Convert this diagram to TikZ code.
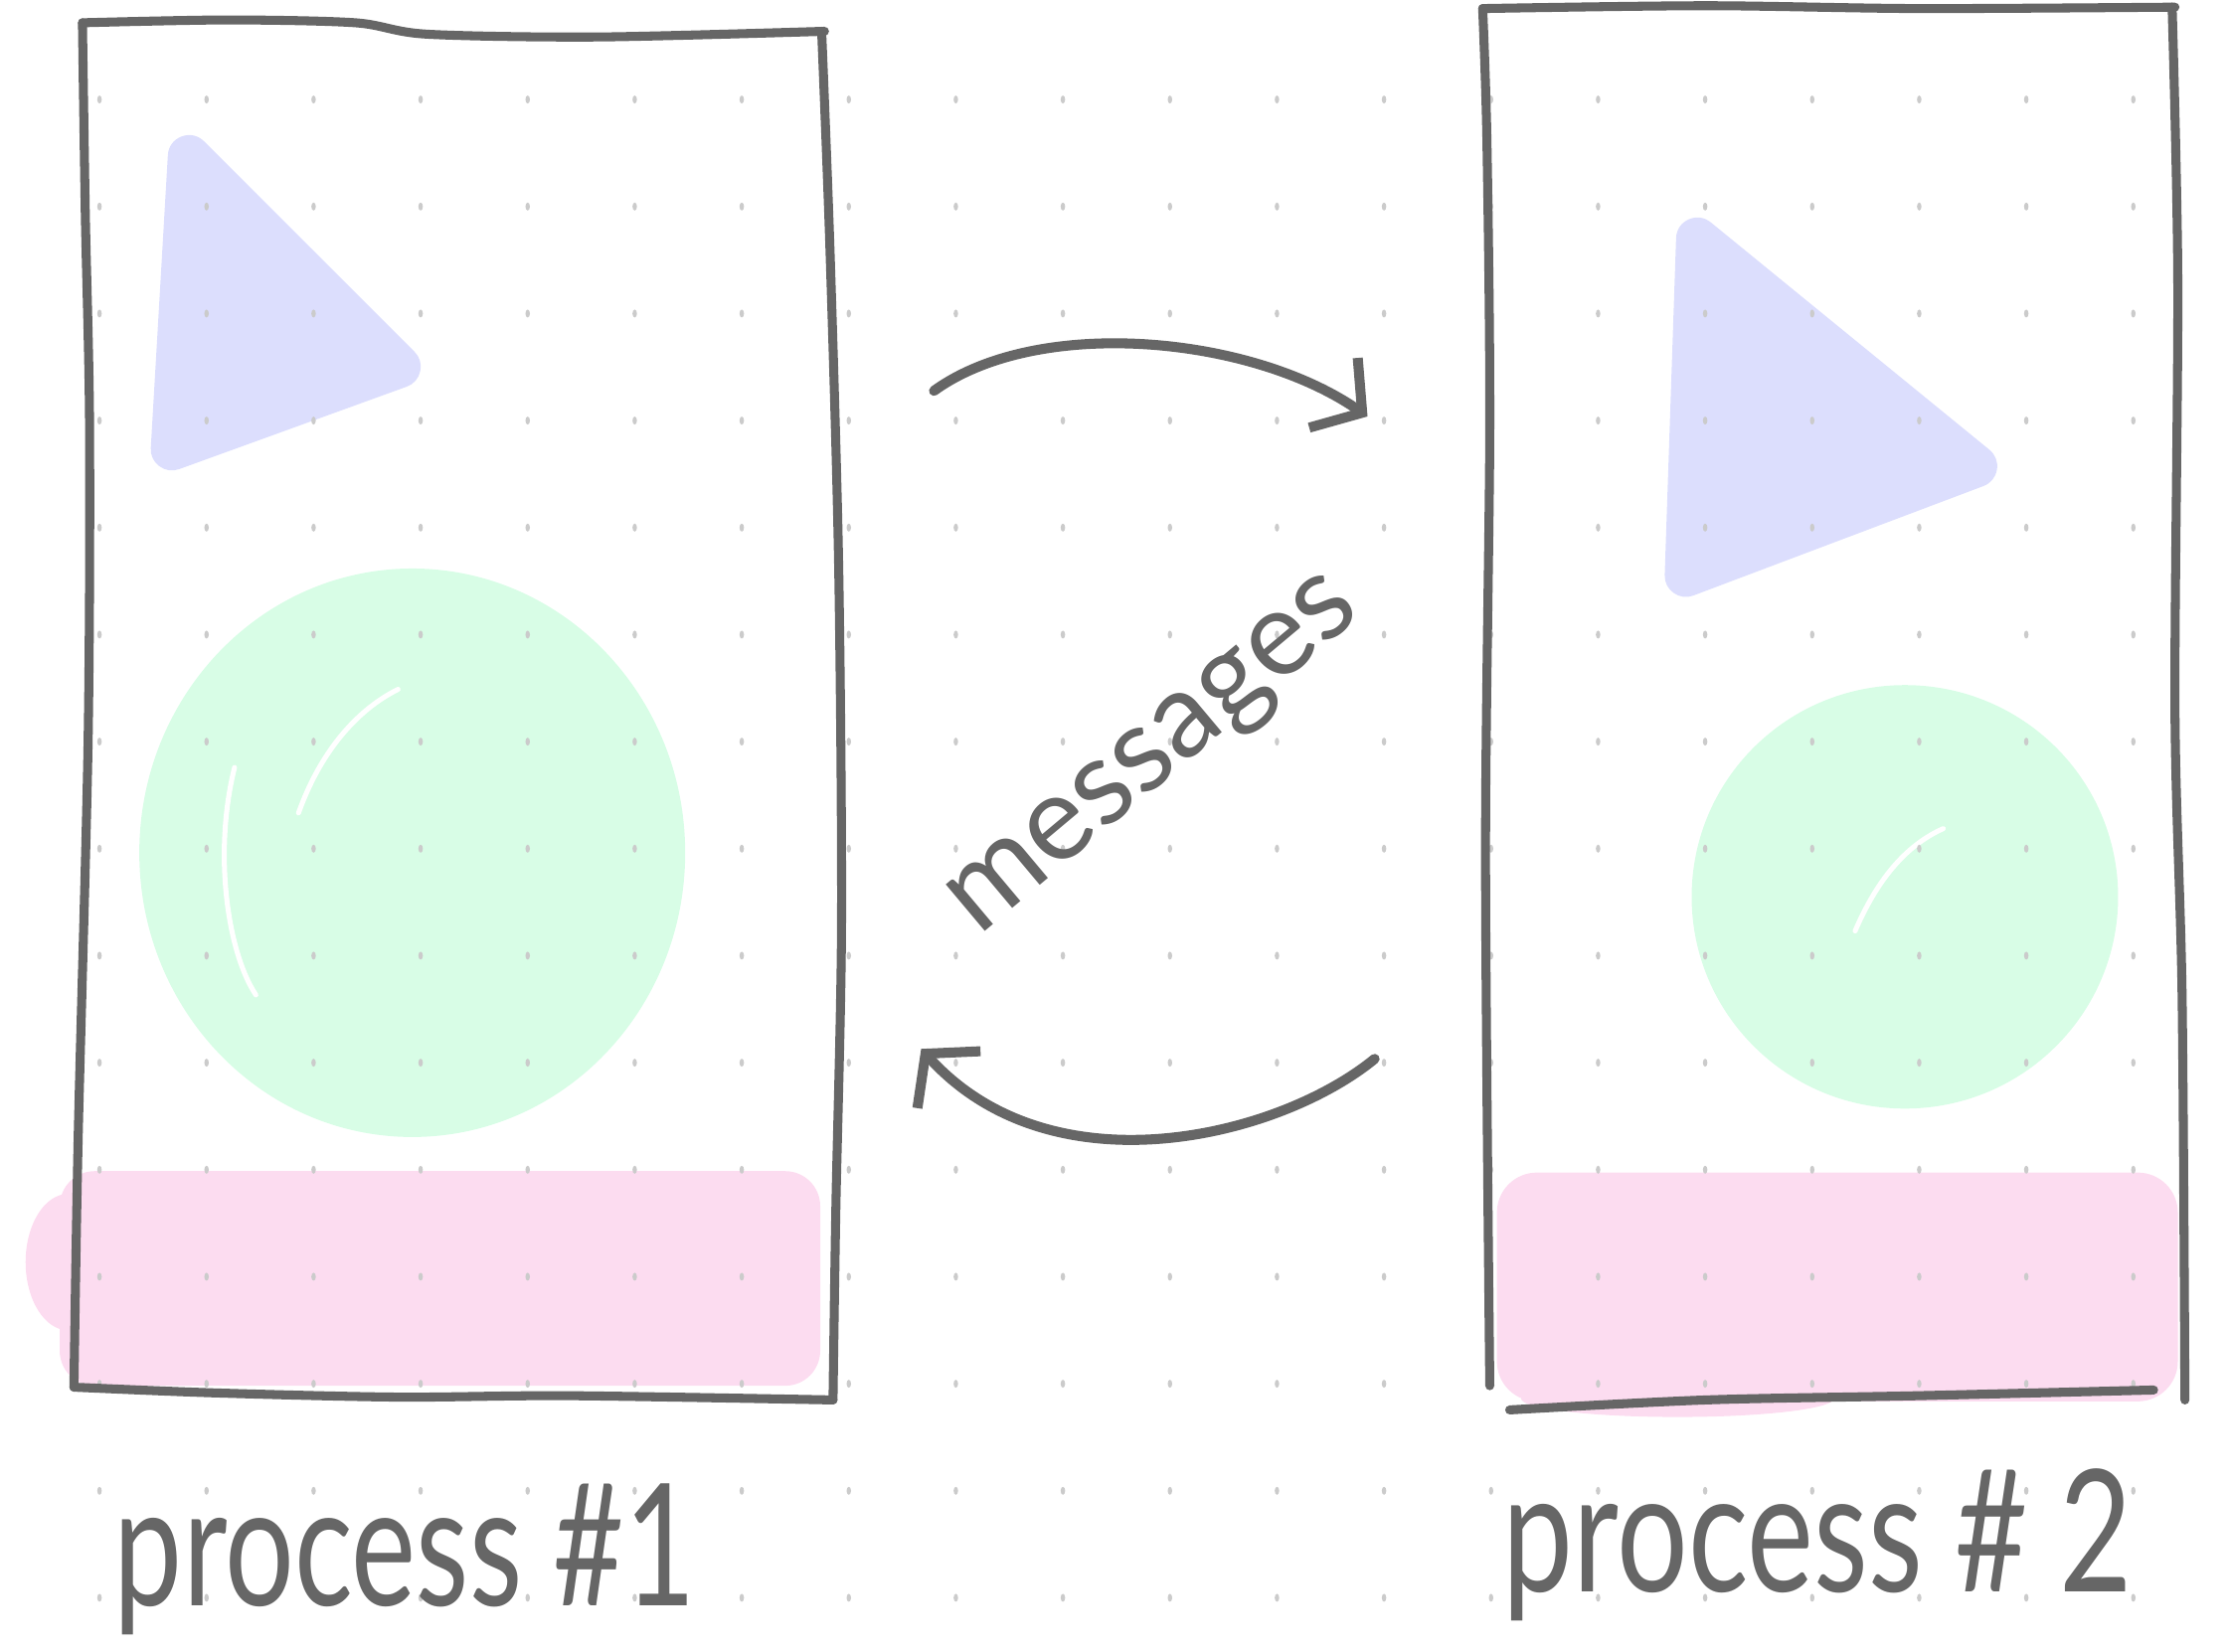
\documentclass[tikz,border=0pt]{standalone}
\usepackage{fontspec}
\setmainfont{Lato}
\usetikzlibrary{arrows.meta}

\definecolor{ink}{HTML}{666666}
\definecolor{dotgray}{HTML}{CBCBCB}
\definecolor{lilac}{HTML}{DCDEFD}
\definecolor{mint}{HTML}{D8FDE6}
\definecolor{blush}{HTML}{FCDCF0}

\tikzset{
  sketch/.style={draw=ink, line width=1.8pt, line cap=round, line join=round},
  blob/.style={line width=8.5pt, line join=round},
  msgarrow/.style={sketch, line width=2pt, -{Straight Barb[length=7pt, width=17pt]}},
  caption/.style={text=ink, font=\fontsize{34}{40}\selectfont, anchor=base west},
}

\begin{document}
\begin{tikzpicture}[x=0.01cm, y=-0.01cm]
        \useasboundingbox (0,0) rectangle (1568,1162);

        % coloured scribbles, process 1
        \filldraw[lilac, blob] (133,110) -- (281,258) -- (121,316) -- cycle;
        \fill[mint] (290,600) ellipse [x radius=192, y radius=200];
        \fill[blush, rounded corners=7pt] (42,824) rectangle (577,975);
        \fill[blush] (48,888) ellipse [x radius=30, y radius=48];

        % coloured scribbles, process 2
        \filldraw[lilac, blob] (1194,168) -- (1390,328) -- (1186,405) -- cycle;
        \fill[mint] (1340,631) ellipse [x radius=150, y radius=149];
        \fill[blush, rounded corners=8pt] (1053,825) rectangle (1532,986);
        \fill[blush] (1180,984) ellipse [x radius=110, y radius=13];

        % shine on the balls
        \draw[white, line width=1pt, line cap=round] (165,540) .. controls (150,600) and (160,670) .. (180,700);
        \draw[white, line width=1pt, line cap=round] (210,572) .. controls (225,530) and (250,500) .. (280,485);
        \draw[white, line width=1pt, line cap=round] (1305,655) .. controls (1320,620) and (1340,595) .. (1367,583);

        % dotted paper
        \foreach \i in {0,...,19}
            \foreach \j in {0,...,14}
                \fill[dotgray] (70+75.3*\i, 70+75.3*\j) ellipse [x radius=0.45pt, y radius=0.8pt];

        % process boxes
        \draw[sketch] plot[smooth] coordinates {(58,16) (160,14) (250,16) (300,24) (420,26) (580,22)};
        \draw[sketch] plot[smooth] coordinates {(578,22) (584,180) (590,400) (592,650) (588,850) (586,985)};
        \draw[sketch] plot[smooth] coordinates {(52,976) (150,980) (280,983) (400,982) (586,985)};
        \draw[sketch] plot[smooth] coordinates {(58,16) (60,150) (63,300) (62,520) (55,800) (52,976)};

        \draw[sketch] plot[smooth] coordinates {(1043,6) (1200,4) (1350,6) (1530,5)};
        \draw[sketch] plot[smooth] coordinates {(1043,6) (1046,100) (1048,300) (1045,600) (1048,975)};
        \draw[sketch] plot[smooth] coordinates {(1528,5) (1532,200) (1530,500) (1535,700) (1537,985)};
        \draw[sketch] plot[smooth] coordinates {(1062,992) (1200,985) (1350,982) (1515,978)};

        % messages going back and forth
        \coordinate (sendA) at (657,275);
        \coordinate (sendB) at (962,293);
        \coordinate (backA) at (967,745);
        \coordinate (backB) at (648,738);
        \draw[msgarrow] (sendA) .. controls (730,222) and (880,236) .. (sendB);
        \draw[msgarrow] (backA) .. controls (900,800) and (740,840) .. (backB);
        \node[text=ink, font=\fontsize{24}{28}\selectfont, rotate=40] (msg) at (815,535) {messages};

        % captions
        \node[caption] (cap1) at (68,1130) {\scalebox{0.72}[1]{process \#1}};
        \node[caption] (cap2) at (1045,1120) {\scalebox{0.74}[1]{process \# 2}};
    \end{tikzpicture}
\end{document}
